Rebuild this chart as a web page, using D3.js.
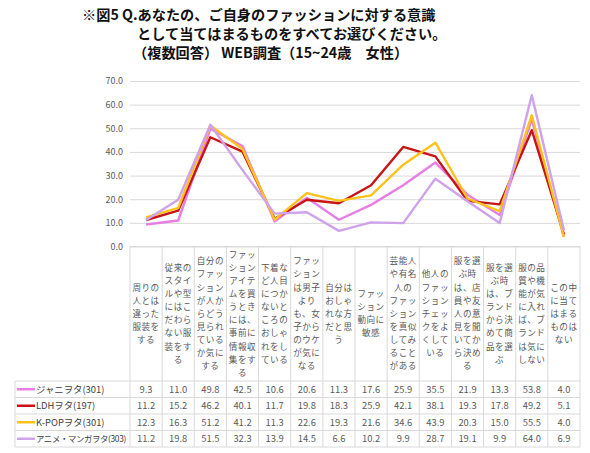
<!DOCTYPE html>
<html>
<head>
<meta charset="utf-8">
<script src="https://cdn.jsdelivr.net/npm/d3@7"></script>
<style>
  body { margin: 0; background: #fff; }
  svg { font-family: "Noto Sans CJK JP", "Noto Sans", sans-serif; }
</style>
</head>
<body>
<div class="wrapper"></div>
<script>

// ---------------- data ---------------- //

var titleLines = [
	"※図5 Q.あなたの、ご自身のファッションに対する意識",
	"として当てはまるものをすべてお選びください。",
	"（複数回答） WEB調査（15~24歳　女性）"
];

var categories = [
	"周りの人とは違った服装をする",
	"従来のスタイルや型にはこだわらない服装をする",
	"自分のファッションが人からどう見られているか気にする",
	"ファッションアイテムを買うときには、事前に情報収集をする",
	"下着など人目につかないところのおしゃれをしている",
	"ファッションは男子よりも、女子からのウケが気になる",
	"自分はおしゃれな方だと思う",
	"ファッション動向に敏感",
	"芸能人や有名人のファッションを真似してみることがある",
	"他人のファッションチェックをよくしている",
	"服を選ぶ時は、店員や友人の意見を聞いてから決める",
	"服を選ぶ時は、ブランドから決めて商品を選ぶ",
	"服の品質や機能が気に入れば、ブランドは気にしない",
	"この中に当てはまるものはない"
];

var seriesNames = ["ジャニヲタ(301)", "LDHヲタ(197)", "K-POPヲタ(301)", "アニメ・マンガヲタ(303)"];
var seriesColors = ["#e67ee6", "#c81414", "#ffc21a", "#cfa2ec"];

var janiValues  = [9.3, 11.0, 49.8, 42.5, 10.6, 20.6, 11.3, 17.6, 25.9, 35.5, 21.9, 13.3, 53.8, 4.0];
var ldhValues   = [11.2, 15.2, 46.2, 40.1, 11.7, 19.8, 18.3, 25.9, 42.1, 38.1, 19.3, 17.8, 49.2, 5.1];
var kpopValues  = [12.3, 16.3, 51.2, 41.2, 11.3, 22.6, 19.3, 21.6, 34.6, 43.9, 20.3, 15.0, 55.5, 4.0];
var animeValues = [11.2, 19.8, 51.5, 32.3, 13.9, 14.5, 6.6, 10.2, 9.9, 28.7, 19.1, 9.9, 64.0, 6.9];

var yTicks = [0, 10, 20, 30, 40, 50, 60, 70];

var series = [janiValues, ldhValues, kpopValues, animeValues];

// ---------------- layout ---------------- //

var W = 590, H = 453,
	PLOT_LEFT = 130,
	PLOT_RIGHT = 580,
	PLOT_TOP = 81,
	PLOT_BOTTOM = 246.5,
	TABLE_LEFT = 15,
	HEADER_BOTTOM = 381,
	ROW_H = 16.5,
	GRID = "#d9d9d9",
	TEXT = "#595959";

var svg = d3.select(".wrapper")
	.append("svg")
		.attr("width", W)
		.attr("height", H);

// title
svg.append("g")
	.selectAll("text")
	.data(titleLines)
	.enter()
	.append("text")
		.attr("x", function(d, i) { return [82, 137, 133][i]; })
		.attr("y", function(d, i) { return 20 + i * 19; })
		.attr("font-size", 14.2)
		.attr("font-weight", "bold")
		.attr("fill", "#111")
		.text(function(d) { return d; });

var x = d3.scaleBand()
	.domain(d3.range(categories.length))
	.range([PLOT_LEFT, PLOT_RIGHT]);

var y = d3.scaleLinear()
	.domain([0, 70])
	.range([PLOT_BOTTOM, PLOT_TOP]);

// gridlines + y labels
var yAxis = d3.axisLeft(y)
	.tickValues(yTicks)
	.tickSize(-(PLOT_RIGHT - PLOT_LEFT))
	.tickPadding(7)
	.tickFormat(d3.format(".1f"));

var gy = svg.append("g")
	.attr("transform", "translate(" + PLOT_LEFT + ",0)")
	.call(yAxis);
gy.select(".domain").remove();
gy.selectAll(".tick line").attr("stroke", GRID).attr("stroke-width", 1);
gy.selectAll(".tick text")
	.attr("fill", TEXT)
	.attr("font-size", 9)
	.attr("font-family", "'Noto Sans CJK JP', sans-serif");

// ---------------- table ---------------- //

var table = svg.append("g").attr("class", "table");
var tableBottom = HEADER_BOTTOM + ROW_H * series.length;

// horizontal rules
table.append("line")
	.attr("x1", PLOT_LEFT).attr("x2", PLOT_RIGHT)
	.attr("y1", PLOT_BOTTOM).attr("y2", PLOT_BOTTOM)
	.attr("stroke", GRID);
table.selectAll("line.hrow")
	.data(d3.range(series.length + 1))
	.enter()
	.append("line")
		.attr("class", "hrow")
		.attr("x1", TABLE_LEFT).attr("x2", PLOT_RIGHT)
		.attr("y1", function(d) { return HEADER_BOTTOM + d * ROW_H; })
		.attr("y2", function(d) { return HEADER_BOTTOM + d * ROW_H; })
		.attr("stroke", GRID);

// vertical rules
table.selectAll("line.vcol")
	.data(d3.range(categories.length + 1))
	.enter()
	.append("line")
		.attr("class", "vcol")
		.attr("x1", function(d) { return PLOT_LEFT + d * x.bandwidth(); })
		.attr("x2", function(d) { return PLOT_LEFT + d * x.bandwidth(); })
		.attr("y1", PLOT_BOTTOM).attr("y2", tableBottom)
		.attr("stroke", GRID);
table.append("line")
	.attr("x1", TABLE_LEFT).attr("x2", TABLE_LEFT)
	.attr("y1", HEADER_BOTTOM).attr("y2", tableBottom)
	.attr("stroke", GRID);

// wraps japanese text to n chars per line, no small kana / comma at line start
function wrapJa(s, n) {
	var noStart = "、。ァィゥェォッャュョーぁぃぅぇぉっゃゅょ）",
		chars = Array.from(s),
		lines = [],
		i = 0;
	while (i < chars.length) {
		var end = Math.min(i + n, chars.length);
		while (end < chars.length && end > i + 1 && noStart.indexOf(chars[end]) >= 0) end--;
		lines.push(chars.slice(i, end).join(""));
		i = end;
	}
	return lines;
}

var LINE_H = 13.1;
var headerMid = (PLOT_BOTTOM + HEADER_BOTTOM) / 2;

var headers = table.selectAll("text.hdr")
	.data(categories)
	.enter()
	.append("text")
		.attr("class", "hdr")
		.attr("text-anchor", "middle")
		.attr("font-size", 8.6)
		.attr("fill", TEXT)
		.attr("letter-spacing", 0.5);

headers.each(function(d, i) {
	var lines = wrapJa(d, 3),
		top = headerMid - (lines.length - 1) * LINE_H / 2;
	d3.select(this).selectAll("tspan")
		.data(lines)
		.enter()
		.append("tspan")
			.attr("x", x(i) + x.bandwidth() / 2)
			.attr("y", function(l, k) { return top + k * LINE_H; })
			.attr("dy", "0.35em")
			.text(function(l) { return l; });
});

// data rows
var rows = table.selectAll("g.row")
	.data(series)
	.enter()
	.append("g")
		.attr("class", "row")
		.attr("transform", function(d, j) {
			return "translate(0," + (HEADER_BOTTOM + j * ROW_H + ROW_H / 2) + ")";
		});

rows.append("line")
	.attr("x1", 17).attr("x2", 35)
	.attr("y1", 0).attr("y2", 0)
	.attr("stroke", function(d, j) { return seriesColors[j]; })
	.attr("stroke-width", 2.5);

rows.append("text")
	.attr("x", 36)
	.attr("dy", "0.35em")
	.attr("font-size", 9.4)
	.attr("fill", "#404040")
	.text(function(d, j) { return seriesNames[j]; })
	.each(function() {
		// shrink long names so they stay inside the legend cell
		var maxW = PLOT_LEFT - 39,
			len = this.getComputedTextLength();
		if (len > maxW) {
			d3.select(this)
				.attr("font-size", 9.4 * maxW / len * 1.04)
				.attr("letter-spacing", -0.35);
		}
	});

rows.selectAll("text.val")
	.data(function(d) { return d; })
	.enter()
	.append("text")
		.attr("class", "val")
		.attr("x", function(d, i) { return x(i) + x.bandwidth() / 2; })
		.attr("dy", "0.35em")
		.attr("text-anchor", "middle")
		.attr("font-size", 9.4)
		.attr("fill", TEXT)
		.text(function(d) { return d3.format(".1f")(d); });

// ---------------- lines ---------------- //

var line = d3.line()
	.x(function(d, i) { return x(i) + x.bandwidth() / 2; })
	.y(function(d) { return y(d); });

svg.append("g")
	.selectAll("path")
	.data(series)
	.enter()
	.append("path")
		.attr("d", line)
		.attr("fill", "none")
		.attr("stroke", function(d, j) { return seriesColors[j]; })
		.attr("stroke-width", 2.4)
		.attr("stroke-linejoin", "round");

</script>
</body>
</html>
